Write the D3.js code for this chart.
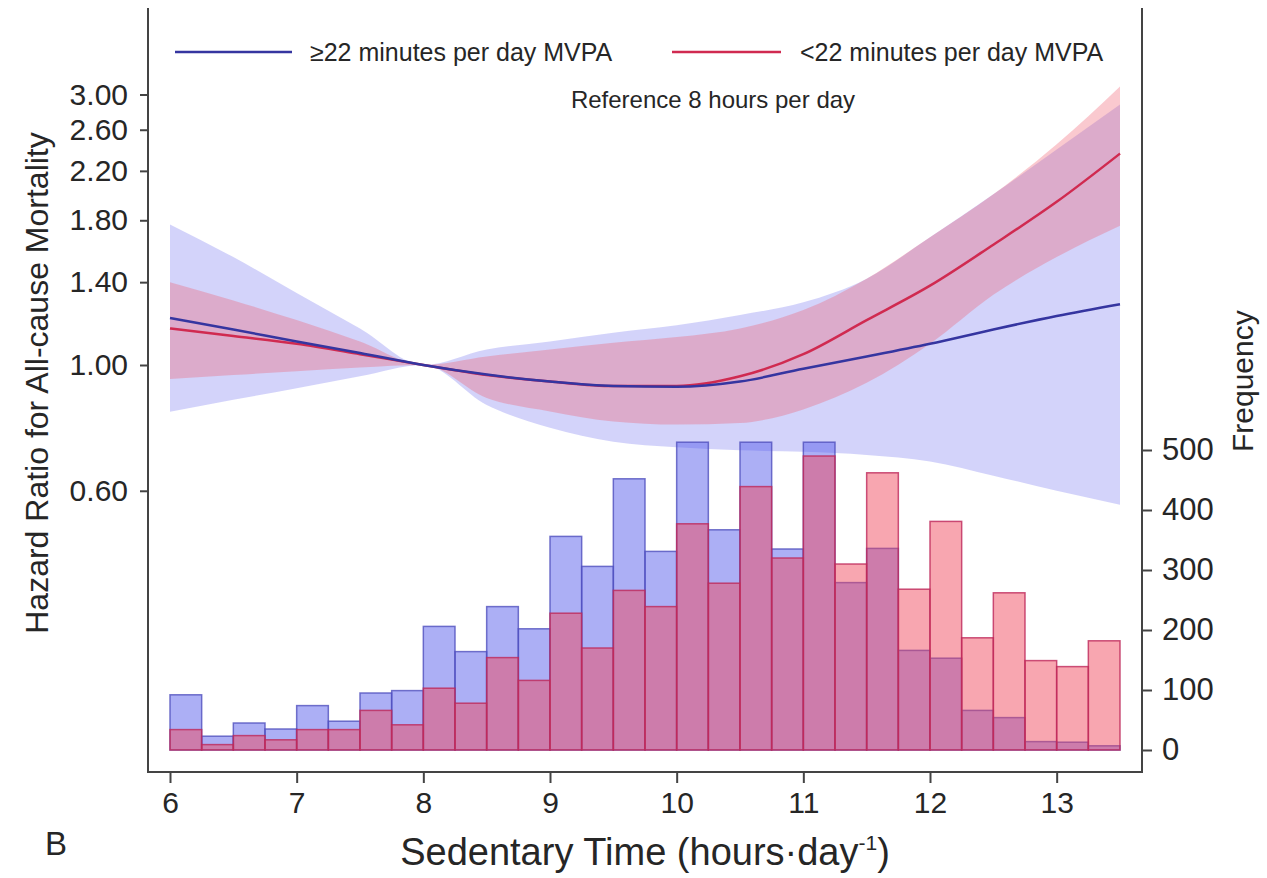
<!DOCTYPE html>
<html>
<head>
<meta charset="utf-8">
<script src="https://cdn.jsdelivr.net/npm/d3@7"></script>
<style>
  body { margin: 0; background: #fff; }
  text { font-family: "Liberation Sans", Arial, sans-serif; fill: #262626; }
</style>
</head>
<body>
<svg id="chart" width="1267" height="878"></svg>
<script>
// sedentary time grid for the spline curves (hours/day)
const hrX = [6, 6.5, 7, 7.5, 8, 8.5, 9, 9.5, 10, 10.5, 11, 11.5, 12, 12.5, 13, 13.5];

// >=22 minutes per day MVPA (blue)
const hiLine  = [1.21, 1.155, 1.10, 1.05, 1.00, 0.962, 0.935, 0.918, 0.915, 0.935, 0.985, 1.035, 1.09, 1.155, 1.22, 1.28];
const hiUpper = [1.77, 1.55, 1.34, 1.16, 1.00, 1.065, 1.10, 1.14, 1.175, 1.225, 1.29, 1.42, 1.68, 2.00, 2.40, 2.88];
const hiLower = [0.827, 0.868, 0.91, 0.955, 1.00, 0.85, 0.775, 0.732, 0.716, 0.707, 0.703, 0.694, 0.676, 0.638, 0.60, 0.567];

// <22 minutes per day MVPA (red)
const loLine  = [1.16, 1.125, 1.09, 1.045, 1.00, 0.96, 0.935, 0.918, 0.918, 0.955, 1.045, 1.20, 1.38, 1.63, 1.94, 2.36];
const loUpper = [1.40, 1.30, 1.20, 1.10, 1.00, 1.035, 1.065, 1.095, 1.12, 1.16, 1.25, 1.42, 1.68, 2.00, 2.45, 3.10];
const loLower = [0.945, 0.96, 0.975, 0.99, 1.00, 0.875, 0.828, 0.795, 0.785, 0.79, 0.835, 0.93, 1.09, 1.33, 1.55, 1.76];

// histogram bins (start of each 0.25 h bin) and frequencies
const binStart = [6, 6.25, 6.5, 6.75, 7, 7.25, 7.5, 7.75, 8, 8.25, 8.5, 8.75, 9, 9.25, 9.5, 9.75,
                  10, 10.25, 10.5, 10.75, 11, 11.25, 11.5, 11.75, 12, 12.25, 12.5, 12.75, 13, 13.25];
const hiFreq = [92, 23, 45, 35, 74, 48, 95, 99, 206, 164, 239, 202, 356, 306, 452, 331,
                513, 367, 513, 335, 513, 279, 336, 166, 153, 66, 54, 14, 13, 7];
const loFreq = [34, 9, 24, 17, 34, 34, 66, 42, 103, 78, 154, 116, 228, 170, 266, 239,
                377, 278, 439, 320, 490, 310, 462, 268, 381, 187, 262, 149, 139, 182];
const binWidth = 0.25;

const xTicks = [6, 7, 8, 9, 10, 11, 12, 13];
const hrTicks = [0.6, 1.0, 1.4, 1.8, 2.2, 2.6, 3.0];
const freqTicks = [0, 100, 200, 300, 400, 500];

const svg = d3.select("#chart");
const frame = {left: 148, right: 1142, top: 8, bottom: 772};

const x = d3.scaleLinear().domain([6, 13.5]).range([170, 1120]);
const yHR = d3.scaleLog().domain([1, 3]).range([365, 94.5]);
const yFreq = d3.scaleLinear().domain([0, 500]).range([750, 450]);

svg.append("clipPath").attr("id", "plotclip").append("rect")
    .attr("x", frame.left).attr("y", frame.top)
    .attr("width", frame.right - frame.left).attr("height", frame.bottom - frame.top);

const plot = svg.append("g").attr("clip-path", "url(#plotclip)");

// confidence bands
const band = (lo, hi) => d3.area()
    .x((d, i) => x(hrX[i]))
    .y0((d, i) => yHR(lo[i]))
    .y1((d, i) => yHR(hi[i]))
    .curve(d3.curveMonotoneX);

plot.append("path").attr("d", band(hiLower, hiUpper)(hrX))
    .attr("fill", "rgb(110,110,240)").attr("fill-opacity", 0.3);
plot.append("path").attr("d", band(loLower, loUpper)(hrX))
    .attr("fill", "rgb(240,90,110)").attr("fill-opacity", 0.33);

// histograms
const bars = plot.append("g");
bars.selectAll("rect.hi").data(hiFreq).enter().append("rect").attr("class", "hi")
    .attr("x", (d, i) => x(binStart[i]))
    .attr("width", (d, i) => x(binStart[i] + binWidth) - x(binStart[i]))
    .attr("y", d => yFreq(d))
    .attr("height", d => yFreq(0) - yFreq(d))
    .attr("fill", "rgb(90,95,235)").attr("fill-opacity", 0.5)
    .attr("stroke", "rgb(80,80,190)").attr("stroke-opacity", 0.8).attr("stroke-width", 1.5);
bars.selectAll("rect.lo").data(loFreq).enter().append("rect").attr("class", "lo")
    .attr("x", (d, i) => x(binStart[i]))
    .attr("width", (d, i) => x(binStart[i] + binWidth) - x(binStart[i]))
    .attr("y", d => yFreq(d))
    .attr("height", d => yFreq(0) - yFreq(d))
    .attr("fill", "rgb(240,70,90)").attr("fill-opacity", 0.48)
    .attr("stroke", "rgb(190,40,90)").attr("stroke-opacity", 0.8).attr("stroke-width", 1.5);

// hazard ratio lines
const line = vals => d3.line()
    .x((d, i) => x(hrX[i]))
    .y((d, i) => yHR(vals[i]))
    .curve(d3.curveMonotoneX)(hrX);

plot.append("path").attr("d", line(loLine)).attr("fill", "none")
    .attr("stroke", "#d02a50").attr("stroke-width", 2.5);
plot.append("path").attr("d", line(hiLine)).attr("fill", "none")
    .attr("stroke", "#3535a0").attr("stroke-width", 2.5);

// frame lines
const axisColor = "#444";
svg.append("line").attr("x1", frame.left).attr("x2", frame.left).attr("y1", frame.top).attr("y2", frame.bottom)
    .attr("stroke", axisColor).attr("stroke-width", 2);
svg.append("line").attr("x1", frame.right).attr("x2", frame.right).attr("y1", frame.top).attr("y2", frame.bottom)
    .attr("stroke", axisColor).attr("stroke-width", 2);
svg.append("line").attr("x1", frame.left - 1).attr("x2", frame.right + 1).attr("y1", frame.bottom).attr("y2", frame.bottom)
    .attr("stroke", axisColor).attr("stroke-width", 2);

// axes
function styleAxis(g, size) {
    g.select(".domain").remove();
    g.selectAll(".tick line").attr("stroke", axisColor).attr("stroke-width", 2);
    g.selectAll(".tick text").attr("font-size", size).attr("fill", "#262626")
        .style("font-family", '"Liberation Sans", Arial, sans-serif');
}

svg.append("g").attr("transform", "translate(0," + frame.bottom + ")")
    .call(d3.axisBottom(x).tickValues(xTicks).tickFormat(d3.format("d")).tickSize(11).tickPadding(9))
    .call(g => styleAxis(g, 30));

svg.append("g").attr("transform", "translate(" + frame.left + ",0)")
    .call(d3.axisLeft(yHR).tickValues(hrTicks).tickFormat(d3.format(".2f")).tickSize(8).tickPadding(12))
    .call(g => styleAxis(g, 30));

svg.append("g").attr("transform", "translate(" + frame.right + ",0)")
    .call(d3.axisRight(yFreq).tickValues(freqTicks).tickFormat(d3.format("d")).tickSize(10).tickPadding(10))
    .call(g => styleAxis(g, 31));

// axis titles
svg.append("text").attr("transform", "translate(48,383) rotate(-90)")
    .attr("text-anchor", "middle").attr("font-size", 32)
    .text("Hazard Ratio for All-cause Mortality");

svg.append("text").attr("transform", "translate(1253,452) rotate(-90)")
    .attr("text-anchor", "start").attr("font-size", 30)
    .text("Frequency");

const xt = svg.append("text").attr("x", 645).attr("y", 865)
    .attr("text-anchor", "middle").attr("font-size", 38);
xt.append("tspan").text("Sedentary Time (hours\u00b7day");
xt.append("tspan").attr("dy", -15).attr("font-size", 21).text("-1");
xt.append("tspan").attr("dy", 15).text(")");

svg.append("text").attr("x", 45).attr("y", 855).attr("font-size", 33).text("B");

// legend
svg.append("line").attr("x1", 175).attr("x2", 292).attr("y1", 52).attr("y2", 52)
    .attr("stroke", "#3535a0").attr("stroke-width", 2.5);
svg.append("text").attr("x", 310).attr("y", 61).attr("font-size", 25)
    .text("\u226522 minutes per day MVPA");
svg.append("line").attr("x1", 672).attr("x2", 781).attr("y1", 52).attr("y2", 52)
    .attr("stroke", "#d02a50").attr("stroke-width", 2.5);
svg.append("text").attr("x", 800).attr("y", 61).attr("font-size", 25)
    .text("<22 minutes per day MVPA");

svg.append("text").attr("x", 713).attr("y", 108).attr("text-anchor", "middle").attr("font-size", 24)
    .text("Reference 8 hours per day");
</script>
</body>
</html>
